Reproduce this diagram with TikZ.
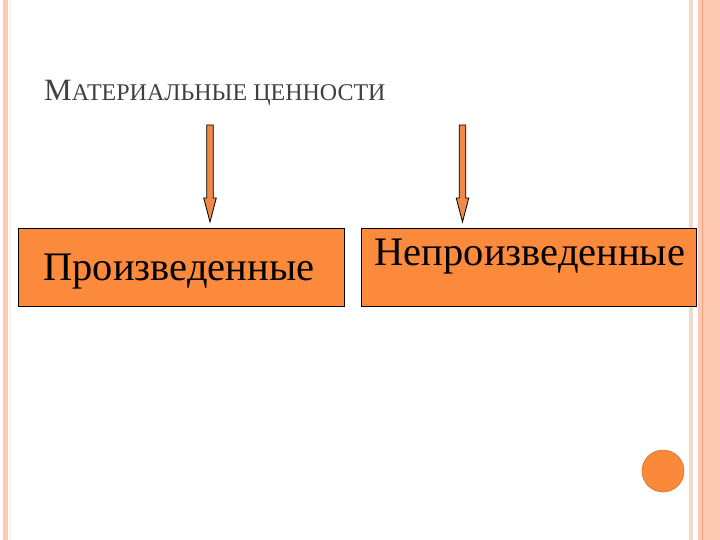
\documentclass[tikz,border=0pt]{standalone}
\usepackage{fontspec}
\setmainfont{Liberation Serif}
\usetikzlibrary{calc}
\definecolor{boxorange}{HTML}{FB8A3C}
\definecolor{arroworange}{HTML}{F0884A}
\definecolor{stripe}{HTML}{FFC8B2}
\definecolor{stripelight}{HTML}{F5D9CA}
\definecolor{stripedark}{HTML}{F4A080}
\definecolor{titlegray}{HTML}{404040}
\definecolor{circorange}{HTML}{FA8A3A}
\tikzset{
  boxstyle/.style={draw=black, line width=0.8pt, fill=boxorange, minimum height=78pt, anchor=north west, inner sep=0pt},
  arrowstyle/.style={draw=black, line width=0.8pt, fill=arroworange, line join=miter},
  boxtext/.style={font=\fontsize{40.5}{45}\selectfont, text=black, inner sep=0pt},
}
\begin{document}
\begin{tikzpicture}[x=1pt, y=-1pt]
\useasboundingbox (0,0) rectangle (720,540);
\fill[white] (0,0) rectangle (720,540);
% left border
\fill[stripe] (3,0) rectangle (8,540);
\fill[stripelight!50] (10,0) rectangle (11,540);
% right border
\fill[stripelight] (689,0) rectangle (693,540);
\fill[stripe] (698,0) rectangle (720,540);
\fill[stripedark] (701.5,0) rectangle (703,540);
% title
\node[anchor=base west, inner sep=0pt, text=titlegray] (title) at (44,100.5)
  {\fontsize{31}{36}\selectfont М\fontsize{24}{28}\selectfont АТЕРИАЛЬНЫЕ ЦЕННОСТИ};
% boxes
\node[boxstyle, minimum width=326pt] (b1) at (18,228) {};
\node[boxstyle, minimum width=335pt] (b2) at (361,228) {};
\node[boxtext, anchor=base] (t1) at ($(b1.center)+(-2.5,13)$) {Произведенные};
\node[boxtext, anchor=base] (t2) at ($(b2.center)+(1,-2)$) {Непроизведенные};
% arrows
\coordinate (a1) at (210,125);
\coordinate (a2) at (462.5,125);
\foreach \a/\b in {a1/b1, a2/b2}{
  \draw[arrowstyle] ($(\a)+(-3.3,0)$) -- ($(\a)+(3.3,0)$) -- ($(\a)+(3.3,73)$) -- ($(\a)+(6.3,73)$)
    -- ($(\a)+(0,97)$) -- ($(\a)+(-6.3,73)$) -- ($(\a)+(-3.3,73)$) -- cycle;
}
% circle
\fill[circorange, draw=circorange!85!black, line width=0.6pt] (663,471) circle (21);
\end{tikzpicture}
\end{document}
